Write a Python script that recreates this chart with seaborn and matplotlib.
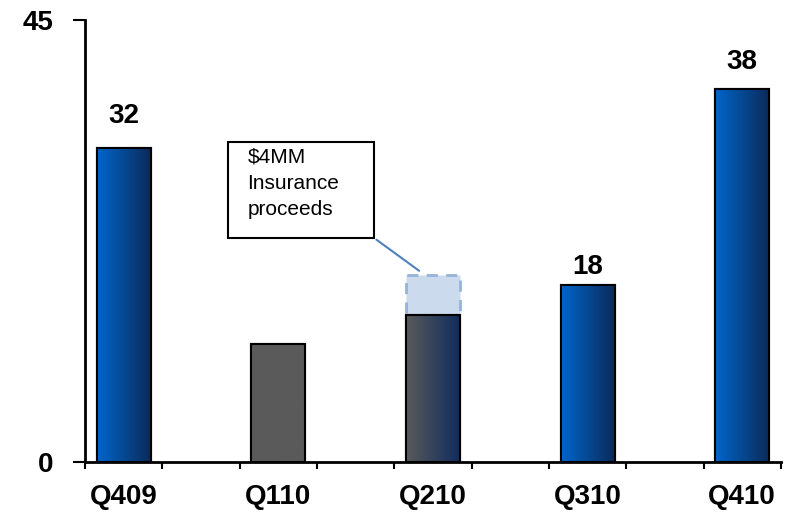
import numpy as np
import pandas as pd
import matplotlib
matplotlib.use("Agg")
import matplotlib.pyplot as plt
import seaborn as sns
from matplotlib.colors import LinearSegmentedColormap
from matplotlib.patches import Rectangle

# ---- data ----
quarters = ["Q409", "Q110", "Q210", "Q310", "Q410"]
slots = [0, 2, 4, 6, 8]              # every other slot on the category axis
base_values = [32, 12, 15, 18, 38]
insurance = [0, 0, 4, 0, 0]
value_labels = ["32", "", "", "18", "38"]
y_ticks = [0, 45]
callout_text = "$4MM\nInsurance\nproceeds"

# ---- styling ----
sns.set_style("white")
plt.rcParams["font.family"] = ["Liberation Sans", "DejaVu Sans"]
plt.rcParams["text.color"] = "black"
plt.rcParams["xtick.color"] = "black"
plt.rcParams["ytick.color"] = "black"

grad_colors = [
    ("#0066CC", "#0B2A57"),
    ("#5A5A5A", "#5A5A5A"),
    ("#5A5A5A", "#0E2C5E"),
    ("#0066CC", "#0B2A57"),
    ("#0066CC", "#0B2A57"),
]
label_offsets = [19, 0, 0, 5, 14]   # px above bar top for value labels

df = pd.DataFrame({"quarter": quarters, "slot": slots, "base": base_values,
                   "ins": insurance})

fig = plt.figure(figsize=(7.92, 5.25), dpi=100)
ax = fig.add_axes([0.1073, 0.12, 0.8787, 0.842])

# insurance segment: bars of height = insurance, then stacked on the base value
sns.barplot(data=df, x="slot", y="ins", native_scale=True, width=0.35,
            color="#C6D9F1", edgecolor="#95B3D7", linewidth=2, linestyle=(0, (4, 3)),
            ax=ax, zorder=2)
ins_patches = sorted(ax.patches, key=lambda p: p.get_x())
for p, extra, base in zip(ins_patches, insurance, base_values):
    if extra <= 0:
        p.set_visible(False)
    else:
        p.set_y(base)
n_ins = len(ax.patches)

sns.barplot(data=df, x="slot", y="base", hue="quarter", native_scale=True,
            width=0.35, palette=[c[0] for c in grad_colors], edgecolor="black",
            linewidth=1.5, legend=False, dodge=False, ax=ax, zorder=3)

ax.set_xlim(-0.5, 8.5)
ax.set_ylim(0, 45)

base_patches = sorted(ax.patches[n_ins:], key=lambda p: p.get_x())
grad = np.linspace(0, 1, 256).reshape(1, -1)
for p, (c0, c1) in zip(base_patches, grad_colors):
    x0, y0 = p.get_x(), p.get_y()
    w, h = p.get_width(), p.get_height()
    if h <= 0:
        continue
    cmap = LinearSegmentedColormap.from_list("g", [c0, c1])
    im = ax.imshow(grad, cmap=cmap, extent=[x0, x0 + w, y0, y0 + h],
                   aspect="auto", zorder=3.5, interpolation="bilinear")
    im.set_clip_path(p)
    ax.add_patch(Rectangle((x0, y0), w, h, fill=False, edgecolor="black",
                           linewidth=1.5, zorder=3.6))

ax.set_xlim(-0.5, 8.5)
ax.set_ylim(0, 45)

# value labels
for s, v, lab, off in zip(slots, base_values, value_labels, label_offsets):
    if lab:
        ax.annotate(lab, (s, v), xytext=(0, off * 0.72), textcoords="offset points",
                    ha="center", va="bottom", fontsize=20, fontweight="bold",
                    color="black")

# axes
for side in ["top", "right"]:
    ax.spines[side].set_visible(False)
for side in ["left", "bottom"]:
    ax.spines[side].set_linewidth(2)
    ax.spines[side].set_color("black")

ax.set_yticks(y_ticks)
ax.set_yticklabels([str(t) for t in y_ticks], fontsize=20, fontweight="bold",
                   color="black")
ax.tick_params(axis="y", direction="out", length=8.5, width=1.5, pad=14, left=True,
               colors="black")

ax.set_xticks(slots)
ax.set_xticklabels(quarters, fontsize=20, fontweight="bold", color="black")
ax.set_xticks(np.arange(-0.5, 9.0, 1.0), minor=True)
ax.tick_params(axis="x", which="major", length=0, pad=16, bottom=True,
               colors="black")
ax.tick_params(axis="x", which="minor", direction="out", length=5, width=1.5,
               bottom=True, colors="black")
ax.set_xlabel("")
ax.set_ylabel("")

# callout box
ins_idx = quarters.index("Q210")
ins_top = base_values[ins_idx] + insurance[ins_idx]
box = Rectangle((1.35, 22.8), 1.89, 9.8, fill=True, facecolor="white",
                edgecolor="black", linewidth=1.5, zorder=5)
ax.add_patch(box)
ax.text(1.6, 28.4, callout_text, fontsize=15, ha="left", va="center",
        linespacing=1.5, zorder=6, color="black")
ax.annotate("", xy=(slots[ins_idx] - 0.15, ins_top + 0.3),
            xytext=(3.24, 22.8),
            arrowprops=dict(arrowstyle="-", color="#4F81BD", lw=1.5), zorder=4)

fig.savefig("out.png", dpi=100)
